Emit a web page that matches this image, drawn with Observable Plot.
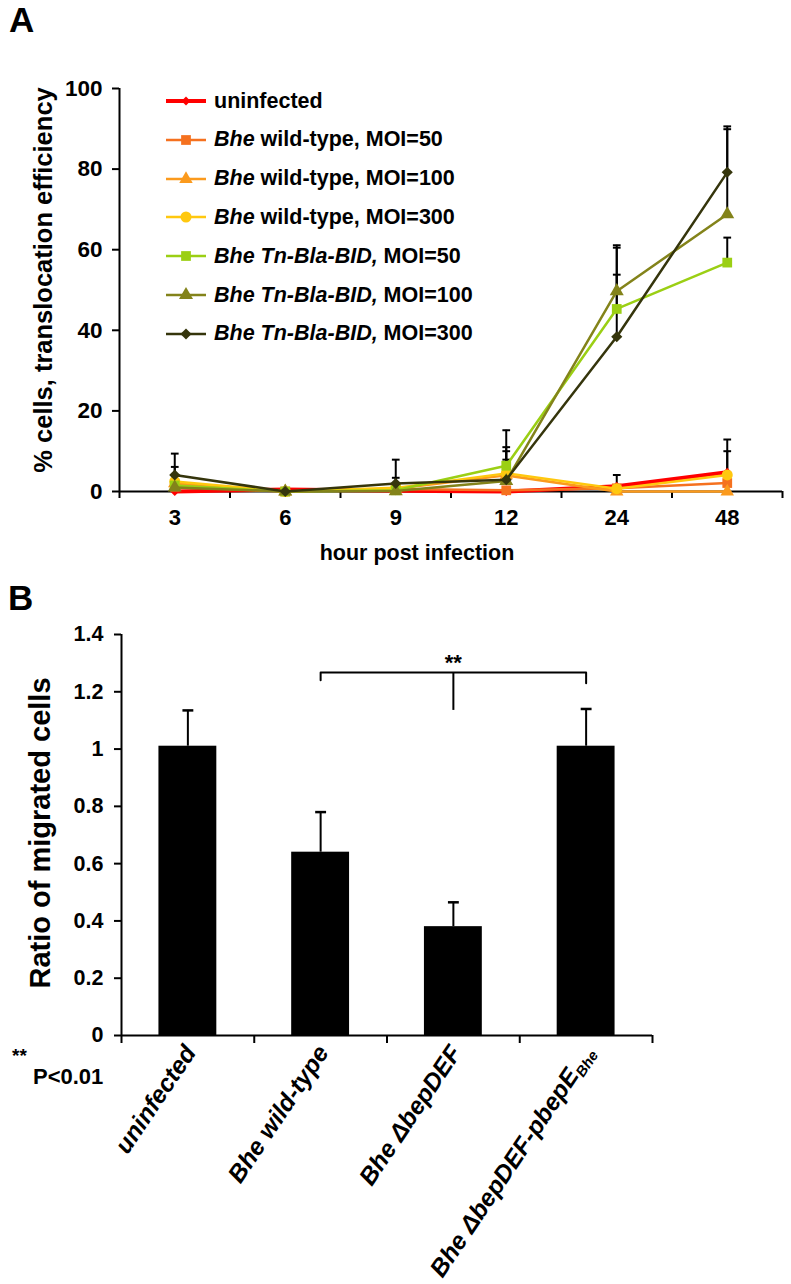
<!DOCTYPE html>
<html><head><meta charset="utf-8">
<script src="https://cdn.jsdelivr.net/npm/d3@7"></script>
<script src="https://cdn.jsdelivr.net/npm/@observablehq/plot@0.6"></script>
<style>
body{margin:0;background:#fff;}
#wrap{position:relative;width:791px;height:1284px;font-family:"Liberation Sans",Arial,sans-serif;font-weight:bold;color:#000;overflow:hidden;background:#fff}
.abs{position:absolute;white-space:nowrap}
#wrap svg{display:block}
</style></head><body><div id="wrap"></div>
<script>
// ---------- Panel A data ----------
const hours = ["3","6","9","12","24","48"];
const yTicksA = [0,20,40,60,80,100];
const legendItalic = ["", "Bhe", "Bhe", "Bhe", "Bhe Tn-Bla-BID,", "Bhe Tn-Bla-BID,", "Bhe Tn-Bla-BID,"];
const legendRest = ["uninfected", " wild-type, MOI=50", " wild-type, MOI=100", " wild-type, MOI=300", " MOI=50", " MOI=100", " MOI=300"];
const seriesColors = ["#ff0000","#f5711f","#fb9a1d","#ffc80f","#9bcf14","#83831a","#35350c"];
const seriesSymbols = ["diamond2","square","triangle","circle","square","triangle","diamond2"];
const uninfected = [0, 0.5, 0.2, 0, 1.3, 4.8];
const wt50  = [1.2, 0, 0.6, 0.3, 0.8, 2.1];
const wt100 = [2.0, 0, 0.7, 4.0, 0, 0];
const wt300 = [2.5, 0, 0.9, 4.5, 0.7, 4.1];
const tn50  = [1.5, 0, 0.3, 6.4, 45.3, 56.8];
const tn100 = [1.0, 0, 0.1, 2.6, 49.7, 68.8];
const tn300 = [4.1, 0, 2.0, 2.9, 38.4, 79.2];
// upper ends of error bars (null = none)
const errUninfected = [null, null, null, null, 4.1, 12.9];
const errWt50  = [null, null, null, null, null, null];
const errWt100 = [null, null, null, 10.0, null, null];
const errWt300 = [6.1, null, null, 11.0, null, 10.0];
const errTn50  = [null, null, null, 15.2, 60.5, 63.0];
const errTn100 = [null, null, 3.4, null, 61.1, 89.9];
const errTn300 = [9.4, null, 7.9, 7.9, 53.8, 90.6];

// ---------- Panel B data ----------
const groups = ["uninfected", "Bhe wild-type", "Bhe \u0394bepDEF", "Bhe \u0394bepDEF-pbepE"];
const groupSub = ["", "", "", "Bhe"];
const ratio = [1.01, 0.64, 0.38, 1.01];
const ratioErr = [1.135, 0.78, 0.465, 1.14];
const yTicksB = [0, 0.2, 0.4, 0.6, 0.8, 1.0, 1.2, 1.4];
const sigPair = [1, 3];          // groups joined by the bracket
const sigMid = 2;                // group under the centre stem
const sigLevel = 1.267;          // bracket height
const sigDrops = [1.24, 1.23];   // ends of the side drops
const sigStemEnd = 1.135;        // end of the centre stem
const sigLabel = "**";

const FONT = '"Liberation Sans", Arial, sans-serif';
const wrap = document.getElementById("wrap");

function styleAxes(svg, size) {
  svg.querySelectorAll("text").forEach(t => {
    if (!t.closest('g[aria-label="text"]')) {
      t.style.setProperty("font-size", size + "px", "important");
      t.style.setProperty("font-weight", "bold", "important");
      t.style.setProperty("font-family", FONT, "important");
    }
  });
  svg.querySelectorAll("line, path").forEach(el => {
    const g = el.closest("g[aria-label]");
    if (g && /axis/.test(g.getAttribute("aria-label"))) el.style.setProperty("stroke-width", "2px");
  });
}

// ---------- Panel A ----------
const seriesValues = [uninfected, wt50, wt100, wt300, tn50, tn100, tn300];
const seriesErr = [errUninfected, errWt50, errWt100, errWt300, errTn50, errTn100, errTn300];
const seriesR = [4, 5.5, 5, 5.5, 5.5, 5.2, 5];
const rowsA = [];
seriesValues.forEach((vals, s) => vals.forEach((v, j) => rowsA.push({s, x: j + 0.5, y: v, e: seriesErr[s][j]})));
const errRowsA = rowsA.filter(r => r.e != null);

const marksA = [
  Plot.ruleY([0], {stroke: "black", strokeWidth: 2}),
  Plot.ruleX([0], {y1: 0, y2: 100, stroke: "black", strokeWidth: 2}),
  Plot.ruleX(errRowsA, {x: "x", y1: "y", y2: "e", stroke: "black", strokeWidth: 2}),
  Plot.link(errRowsA, {x1: d => d.x - 0.035, x2: d => d.x + 0.035, y1: "e", y2: "e", stroke: "black", strokeWidth: 2})
];
seriesValues.forEach((vals, s) => {
  const rows = rowsA.filter(r => r.s === s);
  marksA.push(Plot.line(rows, {x: "x", y: "y", stroke: seriesColors[s], strokeWidth: s === 0 ? 4 : 2.5}));
  marksA.push(Plot.dot(rows, {x: "x", y: "y", symbol: seriesSymbols[s], fill: seriesColors[s], r: seriesR[s]}));
});
marksA.push(Plot.text(hours, {x: (d, i) => i + 0.5, frameAnchor: "bottom", dy: 33, fontSize: 22, fontWeight: "bold"}));
marksA.push(Plot.text(["hour post infection"], {frameAnchor: "bottom", dy: 68, dx: -34, fontSize: 21.5, fontWeight: "bold"}));
marksA.push(Plot.text(["% cells, translocation efficiency"], {frameAnchor: "left", textAnchor: "middle", rotate: -90, dx: -76, dy: -10, fontSize: 25.5, fontWeight: "bold"}));

const plotA = Plot.plot({
  width: 791, height: 580,
  marginTop: 88, marginBottom: 89, marginLeft: 119, marginRight: 9,
  style: {fontFamily: FONT, fontSize: "22px", fontWeight: "bold", color: "black", background: "white", overflow: "visible"},
  x: {type: "linear", domain: [0, hours.length], ticks: d3.range(hours.length + 1), tickFormat: () => "", tickSize: 7, label: null},
  y: {domain: [0, 100], ticks: yTicksA, tickSize: 7, tickPadding: 10, label: null},
  marks: marksA
});
styleAxes(plotA, 22.5);
wrap.appendChild(plotA);

// ---------- Panel B ----------
const rowsB = groups.map((g, i) => ({i, x: i + 0.5, v: ratio[i], e: ratioErr[i]}));
const halfBar = 0.218, halfCap = 0.041;
const bracket = [
  {x: sigPair[0] + 0.5, y: sigDrops[0]},
  {x: sigPair[0] + 0.5, y: sigLevel},
  {x: sigPair[1] + 0.5, y: sigLevel},
  {x: sigPair[1] + 0.5, y: sigDrops[1]}
];
const plotB = Plot.plot({
  width: 791, height: 704,
  marginTop: 54, marginBottom: 249, marginLeft: 121, marginRight: 139,
  style: {fontFamily: FONT, fontSize: "21.5px", fontWeight: "bold", color: "black", background: "white", overflow: "visible"},
  x: {type: "linear", domain: [0, groups.length], ticks: d3.range(groups.length + 1), tickFormat: () => "", tickSize: 8, label: null},
  y: {domain: [0, 1.4], ticks: yTicksB, tickFormat: d3.format("~g"), tickSize: 7, tickPadding: 11, label: null},
  marks: [
    Plot.ruleX(rowsB, {x: "x", y1: "v", y2: "e", stroke: "black", strokeWidth: 2}),
    Plot.link(rowsB, {x1: d => d.x - halfCap, x2: d => d.x + halfCap, y1: "e", y2: "e", stroke: "black", strokeWidth: 2.5}),
    Plot.rectY(rowsB, {x1: d => d.x - halfBar, x2: d => d.x + halfBar, y: "v", fill: "black"}),
    Plot.ruleY([0], {stroke: "black", strokeWidth: 2}),
    Plot.ruleX([0], {y1: 0, y2: 1.4, stroke: "black", strokeWidth: 2}),
    Plot.line(bracket, {x: "x", y: "y", stroke: "black", strokeWidth: 2}),
    Plot.ruleX([sigMid + 0.5], {y1: sigStemEnd, y2: sigLevel, stroke: "black", strokeWidth: 2}),
    Plot.text([sigLabel], {x: sigMid + 0.5, y: sigLevel, dy: -3, lineAnchor: "bottom", fontSize: 22, fontWeight: "bold"}),
    Plot.text(groups, {x: (d, i) => i + 0.5, frameAnchor: "bottom", rotate: -56, textAnchor: "end", dx: 9, dy: 17, fontSize: 24.5, fontWeight: "bold", fontStyle: "italic"}),
    Plot.text(["Ratio of migrated cells"], {frameAnchor: "left", textAnchor: "middle", rotate: -90, dx: -81, dy: -2, fontSize: 29, fontWeight: "bold"})
  ]
});
styleAxes(plotB, 21.5);
wrap.appendChild(plotB);
// subscript on the last group label
plotB.querySelectorAll("text").forEach(t => {
  const k = groups.indexOf(t.textContent);
  if (k >= 0 && groupSub[k]) {
    const ts = document.createElementNS("http://www.w3.org/2000/svg", "tspan");
    ts.setAttribute("font-size", "60%");
    ts.setAttribute("dy", "0.3em");
    ts.textContent = groupSub[k];
    t.appendChild(ts);
  }
});

// ---------- overlays: panel letters, legend, p-value note ----------
function addDiv(html, css) {
  const d = document.createElement("div");
  d.className = "abs";
  d.innerHTML = html;
  Object.assign(d.style, css);
  wrap.appendChild(d);
  return d;
}
addDiv("A", {left: "9px", top: "2px", fontSize: "35px", lineHeight: "36px"});
addDiv("B", {left: "8px", top: "580px", fontSize: "35px", lineHeight: "36px"});
addDiv("**", {left: "12px", top: "1046px", fontSize: "19px", lineHeight: "20px"});
addDiv("P&lt;0.01", {left: "33px", top: "1065px", fontSize: "22px", lineHeight: "24px"});

const symMap = {diamond2: d3.symbolDiamond2, square: d3.symbolSquare, triangle: d3.symbolTriangle, circle: d3.symbolCircle};
const rowH = 38.8;
legendRest.forEach((rest, s) => {
  const path = d3.symbol(symMap[seriesSymbols[s]], Math.PI * seriesR[s] * seriesR[s])();
  const sw = `<svg width="40" height="20" style="position:absolute;left:0;top:${(rowH - 20) / 2}px;overflow:visible">` +
    `<line x1="0" x2="40" y1="10" y2="10" stroke="${seriesColors[s]}" stroke-width="${s === 0 ? 4 : 2.5}"/>` +
    `<path d="${path}" transform="translate(20,10)" fill="${seriesColors[s]}"/></svg>`;
  const label = (legendItalic[s] ? `<i>${legendItalic[s]}</i>` : "") + rest;
  addDiv(sw + `<span style="position:absolute;left:48px;top:0">${label}</span>`,
    {left: "166px", top: (101 - rowH / 2 + s * rowH) + "px", height: rowH + "px", width: "340px", fontSize: "21.5px", lineHeight: rowH + "px"});
});
</script>
</body></html>
